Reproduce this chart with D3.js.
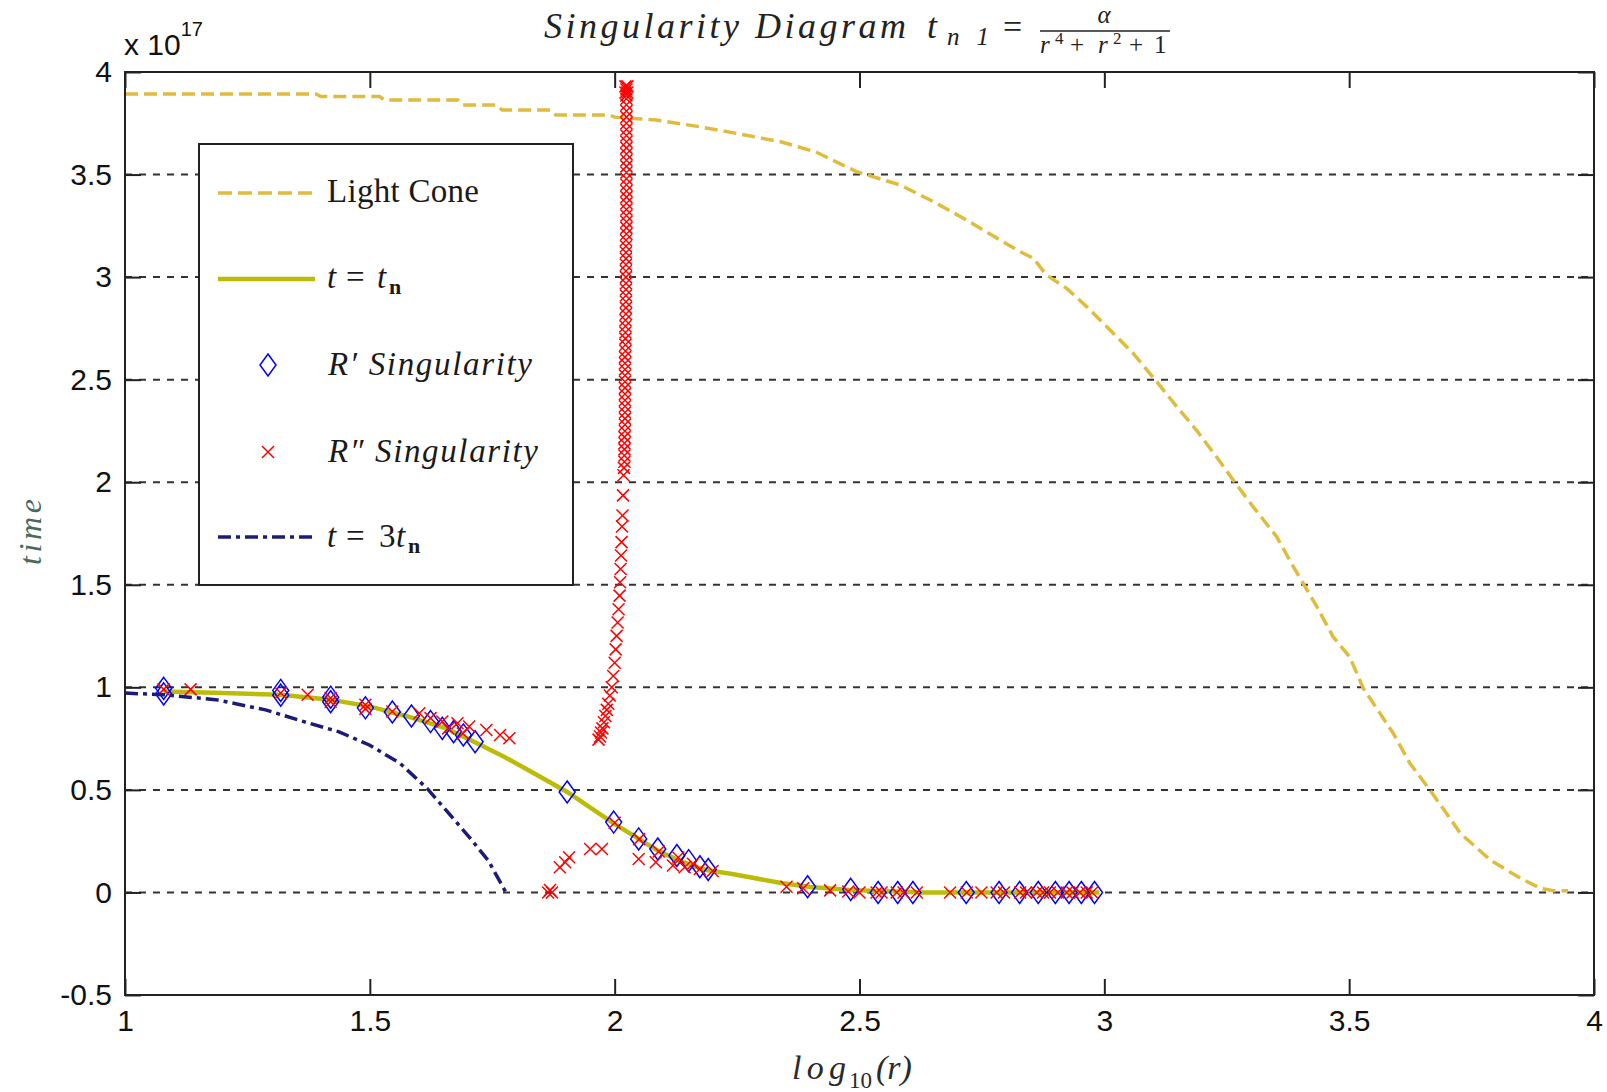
<!DOCTYPE html>
<html>
<head>
<meta charset="utf-8">
<script src="https://cdn.jsdelivr.net/npm/d3@7"></script>
<style>
  body { margin: 0; background: #fff; }
  svg { display: block; }
</style>
</head>
<body>
<svg id="chart" width="1607" height="1092"></svg>
<script>
// axis ticks
const xTicks = [1, 1.5, 2, 2.5, 3, 3.5, 4];
const yTicks = [-0.5, 0, 0.5, 1, 1.5, 2, 2.5, 3, 3.5, 4];
const gridValues = [0, 0.5, 1, 1.5, 2, 2.5, 3, 3.5];

// Light Cone (x 1e17)
const lightConeX = [1.0, 1.39, 1.40, 1.52, 1.53, 1.68, 1.69, 1.76, 1.77, 1.87, 1.88, 1.99, 2.0, 2.085, 2.174, 2.266, 2.339, 2.411, 2.494, 2.583, 2.651, 2.719, 2.787, 2.828, 2.855, 2.882, 2.923, 2.964, 3.005, 3.059, 3.107, 3.148, 3.188, 3.229, 3.263, 3.304, 3.352, 3.386, 3.434, 3.467, 3.501, 3.529, 3.563, 3.59, 3.624, 3.665, 3.699, 3.727, 3.754, 3.788, 3.822, 3.85, 3.891, 3.917, 3.947];
const lightConeY = [3.893, 3.893, 3.88, 3.88, 3.863, 3.863, 3.839, 3.839, 3.815, 3.815, 3.79, 3.79, 3.78, 3.766, 3.733, 3.693, 3.66, 3.61, 3.514, 3.449, 3.368, 3.278, 3.181, 3.124, 3.092, 3.01, 2.945, 2.856, 2.758, 2.628, 2.49, 2.368, 2.254, 2.124, 2.011, 1.88, 1.734, 1.588, 1.393, 1.247, 1.149, 0.995, 0.873, 0.776, 0.63, 0.499, 0.385, 0.288, 0.231, 0.158, 0.109, 0.069, 0.02, 0.008, 0.008];

// t = t_n
const tnX = [1.079, 1.2, 1.318, 1.42, 1.499, 1.577, 1.656, 1.719, 1.774, 1.836, 1.903, 1.994, 2.049, 2.088, 2.127, 2.174, 2.19, 2.24, 2.29, 2.34, 2.40, 2.48, 2.58, 2.63, 2.99];
const tnY = [0.98, 0.972, 0.964, 0.94, 0.907, 0.858, 0.80, 0.727, 0.662, 0.58, 0.49, 0.343, 0.261, 0.204, 0.16, 0.118, 0.108, 0.09, 0.068, 0.046, 0.027, 0.012, 0.004, 0, 0];

// t = 3 t_n
const t3nX = [1.0, 1.079, 1.185, 1.287, 1.365, 1.436, 1.499, 1.562, 1.617, 1.656, 1.703, 1.742, 1.778];
const t3nY = [0.972, 0.964, 0.94, 0.89, 0.833, 0.784, 0.719, 0.629, 0.507, 0.40, 0.27, 0.155, 0.0];

// R' singularity
const rPrimeX = [1.079, 1.079, 1.318, 1.318, 1.42, 1.42, 1.491, 1.546, 1.585, 1.624, 1.648, 1.671, 1.691, 1.715, 1.903, 1.998, 2.049, 2.088, 2.127, 2.151, 2.174, 2.191, 2.394, 2.482, 2.538, 2.578, 2.609, 2.718, 2.785, 2.827, 2.865, 2.9, 2.928, 2.953, 2.98];
const rPrimeY = [0.995, 0.968, 0.985, 0.962, 0.952, 0.93, 0.90, 0.88, 0.86, 0.833, 0.80, 0.784, 0.768, 0.735, 0.49, 0.343, 0.261, 0.212, 0.18, 0.155, 0.125, 0.112, 0.028, 0.015, 0.0, 0.0, 0.0, 0.0, 0.0, 0.0, 0.0, 0.0, 0.0, 0.0, 0.0];

// R'' singularity
const rDoubleX = [
  1.079, 1.134, 1.318, 1.373, 1.42, 1.42, 1.491, 1.491, 1.546, 1.601, 1.624, 1.648, 1.66, 1.679, 1.69, 1.703, 1.738, 1.766, 1.785,
  1.864, 1.868, 1.872, 1.888, 1.899, 1.907, 1.95, 1.974, 2.0, 2.049, 2.05, 2.084, 2.09, 2.119, 2.13, 2.143, 2.16, 2.174, 2.2,
  2.351, 2.385, 2.44, 2.477, 2.50, 2.535, 2.545, 2.576, 2.59, 2.617, 2.685, 2.719, 2.749, 2.78, 2.795, 2.828, 2.84, 2.862, 2.875, 2.889, 2.905, 2.923, 2.935, 2.95, 2.964, 2.975,
  2.022, 2.026, 2.024, 2.022, 2.026, 2.024, 2.024, 2.024, 2.024, 2.024, 2.024, 2.024, 2.024, 2.024, 2.024, 2.024, 2.024, 2.024, 2.024, 2.024, 2.024,
  2.024, 2.024, 2.024, 2.024, 2.024, 2.024, 2.024, 2.024, 2.023, 2.023, 2.023, 2.023, 2.023, 2.023, 2.023, 2.023, 2.023, 2.023, 2.023, 2.023, 2.023,
  2.022, 2.022, 2.022, 2.022, 2.022, 2.022, 2.021, 2.021, 2.021, 2.021, 2.021, 2.021, 2.021, 2.021,
  2.018, 2.017, 2.016, 2.015, 2.014, 2.013, 2.012, 2.011, 2.010, 2.008, 2.006, 2.004, 2.002, 2.0, 1.997, 1.994, 1.99, 1.987, 1.984, 1.981, 1.978, 1.975, 1.972, 1.97, 1.967
];
const rDoubleY = [
  0.99, 0.99, 0.972, 0.964, 0.948, 0.93, 0.915, 0.895, 0.882, 0.874, 0.85, 0.833, 0.80, 0.825, 0.775, 0.809, 0.792, 0.768, 0.752,
  0.0, 0.012, 0.0, 0.123, 0.147, 0.172, 0.212, 0.212, 0.34, 0.163, 0.26, 0.147, 0.2, 0.131, 0.17, 0.123, 0.14, 0.114, 0.105,
  0.028, 0.02, 0.01, 0.005, 0, 0, 0, 0, 0, 0, 0, 0, 0, 0, 0, 0, 0, 0, 0, 0, 0, 0, 0, 0, 0, 0,
  3.93, 3.93, 3.915, 3.90, 3.90, 3.885, 3.87, 3.84, 3.81, 3.78, 3.75, 3.72, 3.69, 3.66, 3.63, 3.60, 3.57, 3.54, 3.51, 3.48, 3.45,
  3.42, 3.39, 3.36, 3.33, 3.30, 3.27, 3.24, 3.21, 3.18, 3.15, 3.12, 3.09, 3.06, 3.03, 3.00, 2.97, 2.94, 2.91, 2.88, 2.85, 2.82,
  2.79, 2.76, 2.73, 2.70, 2.67, 2.64, 2.61, 2.58, 2.55, 2.52, 2.49, 2.46, 2.43, 2.40,
  2.034, 1.936, 1.838, 1.784, 1.708, 1.643, 1.577, 1.512, 1.447, 1.381, 1.316, 1.251, 1.185, 1.12, 1.055, 1.00, 0.96, 0.92, 0.89, 0.86, 0.83, 0.80, 0.78, 0.76, 0.745
];
// extra dense run of the column between 2.4 and 2.1
const rDoubleColX = [2.021, 2.021, 2.021, 2.021, 2.021, 2.020, 2.020, 2.020, 2.020, 2.020, 2.019];
const rDoubleColY = [2.37, 2.34, 2.31, 2.28, 2.25, 2.22, 2.19, 2.16, 2.13, 2.10, 2.07];

const COLORS = {
  lightCone: "#e0bc3e",
  tn: "#bcbc08",
  t3n: "#1c1c78",
  rPrime: "#0000ff",
  rDouble: "#ff0000",
  grid: "#333333",
  axis: "#222222"
};

const SERIF = "'Liberation Serif', 'Times New Roman', serif";
const SANS = "'Liberation Sans', Arial, sans-serif";

const DIAMOND = "M0,-11L8,0L0,11L-8,0Z";
const CROSS = "M-6,-6L6,6M-6,6L6,-6";

const zip = (xs, ys) => xs.map((v, i) => [v, ys[i]]);

const svg = d3.select("#chart");
const x = d3.scaleLinear().domain([1, 4]).range([125, 1594]);
const y = d3.scaleLinear().domain([-0.5, 4]).range([995, 72]);

svg.append("rect").attr("width", 1607).attr("height", 1092).attr("fill", "#fff");

svg.append("defs")
  .append("clipPath")
  .attr("id", "plot-clip")
  .append("rect")
  .attr("x", x(1))
  .attr("y", y(4))
  .attr("width", x(4) - x(1))
  .attr("height", y(-0.5) - y(4));

// grid lines
svg.append("g")
  .selectAll("line")
  .data(gridValues)
  .join("line")
  .attr("x1", x(1))
  .attr("x2", x(4))
  .attr("y1", d => y(d))
  .attr("y2", d => y(d))
  .attr("stroke", COLORS.grid)
  .attr("stroke-width", 2)
  .attr("stroke-dasharray", "7,7");

const plot = svg.append("g").attr("clip-path", "url(#plot-clip)");
const line = d3.line().x(d => x(d[0])).y(d => y(d[1]));

plot.append("path")
  .datum(zip(lightConeX, lightConeY))
  .attr("d", line)
  .attr("fill", "none")
  .attr("stroke", COLORS.lightCone)
  .attr("stroke-width", 3.5)
  .attr("stroke-dasharray", "13,6");

plot.append("path")
  .datum(zip(tnX, tnY))
  .attr("d", line)
  .attr("fill", "none")
  .attr("stroke", COLORS.tn)
  .attr("stroke-width", 4.5);

plot.append("g")
  .selectAll("path")
  .data(zip(rPrimeX, rPrimeY))
  .join("path")
  .attr("d", DIAMOND)
  .attr("transform", d => `translate(${x(d[0])},${y(d[1])})`)
  .attr("fill", "none")
  .attr("stroke", COLORS.rPrime)
  .attr("stroke-width", 1.5);

plot.append("g")
  .selectAll("path")
  .data(zip(rDoubleX, rDoubleY).concat(zip(rDoubleColX, rDoubleColY)))
  .join("path")
  .attr("d", CROSS)
  .attr("transform", d => `translate(${x(d[0])},${y(d[1])})`)
  .attr("fill", "none")
  .attr("stroke", COLORS.rDouble)
  .attr("stroke-width", 1.5);

plot.append("path")
  .datum(zip(t3nX, t3nY))
  .attr("d", line)
  .attr("fill", "none")
  .attr("stroke", COLORS.t3n)
  .attr("stroke-width", 3.5)
  .attr("stroke-dasharray", "13,5,4,5");

// axes: labels bottom / left, ticks on all four sides pointing inwards
const styleAxis = g => {
  g.select(".domain").remove();
  g.selectAll(".tick line").attr("stroke", COLORS.axis).attr("stroke-width", 2);
  g.selectAll(".tick text")
    .attr("fill", "#111")
    .style("font-family", SANS)
    .style("font-size", "30px");
};

// plain hyphen minus like the original, not the unicode minus
const plainFormat = d => String(d);

svg.append("g")
  .attr("transform", `translate(0,${y(-0.5)})`)
  .call(d3.axisBottom(x).tickValues(xTicks).tickFormat(plainFormat).tickSize(-16).tickPadding(15))
  .call(styleAxis);

svg.append("g")
  .attr("transform", `translate(0,${y(4)})`)
  .call(d3.axisTop(x).tickValues(xTicks).tickFormat("").tickSize(-16))
  .call(styleAxis);

svg.append("g")
  .attr("transform", `translate(${x(1)},0)`)
  .call(d3.axisLeft(y).tickValues(yTicks).tickFormat(plainFormat).tickSize(-16).tickPadding(13))
  .call(styleAxis);

svg.append("g")
  .attr("transform", `translate(${x(4)},0)`)
  .call(d3.axisRight(y).tickValues(yTicks).tickFormat("").tickSize(-16))
  .call(styleAxis);

svg.append("rect")
  .attr("x", x(1))
  .attr("y", y(4))
  .attr("width", x(4) - x(1))
  .attr("height", y(-0.5) - y(4))
  .attr("fill", "none")
  .attr("stroke", COLORS.axis)
  .attr("stroke-width", 2);

// exponent
const expo = svg.append("text")
  .attr("x", 124)
  .attr("y", 55)
  .attr("fill", "#111")
  .style("font-family", SANS)
  .style("font-size", "30px");
expo.append("tspan").text("x 10");
expo.append("tspan").attr("dy", -19).style("font-size", "20px").text("17");

// helper for serif text pieces
const serifText = (parent, px, py, str, opts = {}) => {
  const t = parent.append("text")
    .attr("x", px)
    .attr("y", py)
    .attr("fill", opts.fill || "#1a1a1a")
    .attr("text-anchor", opts.anchor || "start")
    .style("font-family", SERIF)
    .style("font-style", opts.italic === false ? "normal" : "italic")
    .style("font-size", (opts.size || 32) + "px")
    .text(str);
  if (opts.width) {
    t.attr("textLength", opts.width).attr("lengthAdjust", "spacing");
  }
  return t;
};

// title
const title = svg.append("g");
serifText(title, 544, 38, "Singularity Diagram", { size: 36, width: 362, fill: "#222" });
serifText(title, 927, 38, "t", { size: 36, fill: "#222" });
serifText(title, 947, 45, "n1", { size: 25, width: 42, fill: "#222" });
serifText(title, 1003, 38, "=", { size: 34, italic: false, fill: "#222" });
serifText(title, 1104, 23, "α", { size: 25, anchor: "middle", fill: "#222" });
title.append("line")
  .attr("x1", 1040)
  .attr("x2", 1170)
  .attr("y1", 31)
  .attr("y2", 31)
  .attr("stroke", "#222")
  .attr("stroke-width", 1.6);
serifText(title, 1040, 53, "r", { size: 25, fill: "#222" });
serifText(title, 1055, 44, "4", { size: 17, italic: false, fill: "#222" });
serifText(title, 1070, 53, "+", { size: 25, italic: false, fill: "#222" });
serifText(title, 1098, 53, "r", { size: 25, fill: "#222" });
serifText(title, 1113, 44, "2", { size: 17, italic: false, fill: "#222" });
serifText(title, 1129, 53, "+", { size: 25, italic: false, fill: "#222" });
serifText(title, 1154, 53, "1", { size: 25, italic: false, fill: "#222" });

// axis titles
const xLabel = svg.append("g");
serifText(xLabel, 792, 1079, "log", { size: 34, width: 54, fill: "#2a2a2a" });
serifText(xLabel, 849, 1088, "10", { size: 23, italic: false, fill: "#2a2a2a" });
serifText(xLabel, 876, 1079, "(r)", { size: 34, fill: "#2a2a2a" });

serifText(svg, 0, 0, "time", { size: 32, width: 66, anchor: "middle", fill: "#4b6a5a" })
  .attr("transform", "translate(41,532) rotate(-90)");

// legend
const legend = svg.append("g");
legend.append("rect")
  .attr("x", 199)
  .attr("y", 144)
  .attr("width", 374)
  .attr("height", 441)
  .attr("fill", "#fff")
  .attr("stroke", COLORS.axis)
  .attr("stroke-width", 2);

const legendRows = [
  { y: 193, kind: "line", color: COLORS.lightCone, width: 3.5, dash: "14,6" },
  { y: 279, kind: "line", color: COLORS.tn, width: 4.5, dash: null },
  { y: 365, kind: "marker", color: COLORS.rPrime, shape: DIAMOND },
  { y: 452, kind: "marker", color: COLORS.rDouble, shape: CROSS },
  { y: 537, kind: "line", color: COLORS.t3n, width: 3.5, dash: "13,5,4,5" }
];

legendRows.forEach(row => {
  if (row.kind === "line") {
    legend.append("line")
      .attr("x1", 218)
      .attr("x2", 315)
      .attr("y1", row.y)
      .attr("y2", row.y)
      .attr("stroke", row.color)
      .attr("stroke-width", row.width)
      .attr("stroke-dasharray", row.dash);
  } else {
    legend.append("path")
      .attr("d", row.shape)
      .attr("transform", `translate(268,${row.y})`)
      .attr("fill", "none")
      .attr("stroke", row.color)
      .attr("stroke-width", 1.5);
  }
});

serifText(legend, 327, 202, "Light Cone", { italic: false, size: 33, width: 152 });
serifText(legend, 327, 288, "t", { size: 33 });
serifText(legend, 346, 288, "=", { italic: false, size: 33 });
serifText(legend, 377, 288, "t", { size: 33 });
serifText(legend, 389, 294, "n", { size: 22, italic: false }).style("font-weight", "bold");
serifText(legend, 328, 375, "R′ Singularity", { size: 33, width: 204 });
serifText(legend, 328, 462, "R″ Singularity", { size: 33, width: 210 });
serifText(legend, 327, 547, "t", { size: 33 });
serifText(legend, 346, 547, "=", { italic: false, size: 33 });
serifText(legend, 379, 547, "3", { italic: false, size: 33 });
serifText(legend, 396, 547, "t", { size: 33 });
serifText(legend, 408, 553, "n", { size: 22, italic: false }).style("font-weight", "bold");
</script>
</body>
</html>
